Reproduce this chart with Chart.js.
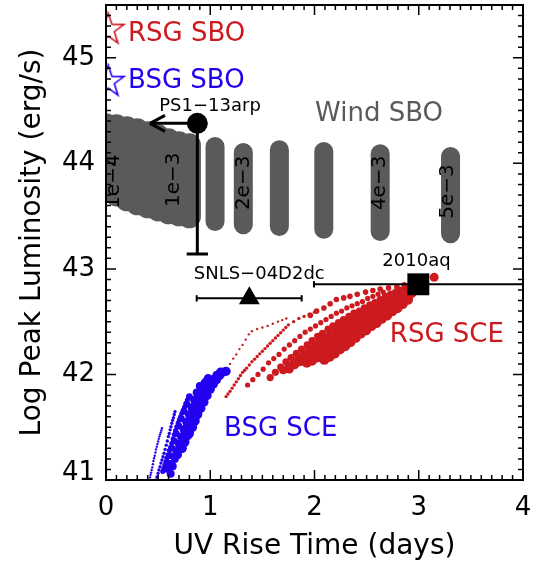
<!DOCTYPE html>
<html lang="en">
<head>
<meta charset="UTF-8">
<title>UV Rise Time vs Peak Luminosity</title>
<script src="https://cdn.jsdelivr.net/npm/chart.js"></script>
<style>
    body { margin: 0; background: #fff; }
</style>
</head>
<body>
<canvas id="chart" width="546" height="570"></canvas>
<script>
    const RED = '#cc1a1f';
    const BLUE = '#2200f0';
    const GRAY = '#5a5a5a';
    const FONT = 'DejaVu Sans';

    // shock breakout stars
    const rsgSbo = [[0.021, 45.267]];
    const bsgSbo = [[0.021, 44.774]];

    // wind SBO columns: x position, top and bottom of each column (log L)
    const windX      = [0.00, 0.10, 0.20, 0.30, 0.40, 0.50, 0.60, 0.70, 0.80, 1.046, 1.317, 1.663, 2.089, 2.630, 3.305];
    const windTop    = [44.365, 44.355, 44.336, 44.318, 44.289, 44.261, 44.223, 44.194, 44.175, 44.159, 44.102, 44.128, 44.112, 44.090, 44.064];
    const windBottom = [43.758, 43.701, 43.654, 43.616, 43.588, 43.559, 43.531, 43.512, 43.493, 43.448, 43.417, 43.401, 43.376, 43.354, 43.332];
    const windLabels = ['1e-4', '1e-3', '2e-3', '4e-3', '5e-3'];
    const windLabelX = [0.07, 0.65, 1.32, 2.63, 3.28];
    const windLabelY = [43.827, 43.844, 43.815, 43.815, 43.733];

    // observed events
    const ps1 = { x: 0.876, y: 44.379, yLow: 43.141, xLimit: 0.422 };
    const snls = { x: 1.375, y: 42.721, xLow: 0.870, xHigh: 1.877 };
    const sn2010aq = { x: 2.996, y: 42.854, xLow: 1.995, xHigh: 4.4 };

    // RSG shock cooling tracks (small dots to big dots)
    const redTrackA = [[1.13,42.01],[1.16,42.05],[1.19,42.10],[1.22,42.15],[1.25,42.19],[1.28,42.24],[1.31,42.28],[1.34,42.33],[1.37,42.38],[1.40,42.41],[1.45,42.43],[1.50,42.445],[1.55,42.46],[1.60,42.48],[1.65,42.50],[1.69,42.515],[1.73,42.53]];
    const redTrackB = [[1.152,41.79],[1.17,41.815],[1.19,41.84],[1.21,41.87],[1.23,41.90],[1.25,41.93],[1.27,41.96],[1.29,41.99],[1.31,42.02],[1.33,42.04],[1.35,42.06],[1.375,42.09],[1.40,42.12],[1.425,42.145],[1.45,42.17],[1.475,42.195],[1.50,42.22],[1.525,42.245],[1.55,42.27],[1.575,42.295],[1.60,42.32],[1.625,42.345],[1.65,42.37],[1.675,42.395],[1.70,42.42],[1.725,42.445],[1.75,42.47],[1.80,42.50],[1.85,42.53],[1.90,42.55],[1.95,42.57],[2.00,42.59]];
    const redTrackC = [[1.358,41.90],[1.408,41.95],[1.458,42.00],[1.508,42.05],[1.559,42.11],[1.609,42.15],[1.659,42.19],[1.709,42.24],[1.759,42.28],[1.81,42.32],[1.86,42.36],[1.91,42.40],[1.96,42.43],[2.01,42.46],[2.06,42.49],[2.11,42.52],[2.16,42.55],[2.21,42.58],[2.26,42.60],[2.31,42.63],[2.36,42.65],[2.41,42.67],[2.46,42.69],[2.51,42.72],[2.56,42.74],[2.61,42.76],[2.66,42.78]];
    const redTrackH = [[1.96,42.56],[2.02,42.60],[2.09,42.63],[2.15,42.67],[2.21,42.71],[2.28,42.725],[2.34,42.74],[2.41,42.76],[2.49,42.78],[2.56,42.795],[2.63,42.81],[2.71,42.82],[2.79,42.83],[2.86,42.85],[2.93,42.87]];
    const redTrackD = [[1.575,41.97],[1.625,42.02],[1.676,42.07],[1.726,42.12],[1.776,42.16],[1.826,42.20],[1.876,42.24],[1.93,42.28],[1.977,42.32],[2.03,42.36],[2.077,42.39],[2.13,42.43],[2.177,42.46],[2.23,42.49],[2.278,42.52],[2.33,42.55],[2.378,42.58],[2.43,42.60],[2.478,42.63],[2.53,42.66],[2.579,42.68],[2.63,42.71],[2.679,42.74],[2.73,42.76],[2.779,42.78],[2.83,42.80],[2.88,42.82],[2.92,42.84],[2.963,42.86]];
    const redTrackD2 = [[1.70,42.04],[1.75,42.08],[1.80,42.12],[1.85,42.16],[1.90,42.20],[1.95,42.24],[2.00,42.28],[2.05,42.31],[2.10,42.35],[2.15,42.38],[2.20,42.42],[2.25,42.45],[2.30,42.48],[2.35,42.51],[2.40,42.54],[2.45,42.57],[2.50,42.60],[2.55,42.63],[2.60,42.66],[2.65,42.69],[2.70,42.72],[2.75,42.74],[2.80,42.77],[2.85,42.79],[2.90,42.81],[2.95,42.83]];
    const redTrackE = [[1.759,42.05],[1.81,42.09],[1.86,42.12],[1.91,42.16],[1.96,42.19],[2.01,42.23],[2.06,42.26],[2.11,42.30],[2.161,42.33],[2.21,42.37],[2.261,42.40],[2.31,42.43],[2.361,42.47],[2.41,42.50],[2.462,42.53],[2.51,42.56],[2.562,42.59],[2.61,42.62],[2.662,42.65],[2.71,42.68],[2.763,42.71],[2.81,42.74],[2.863,42.76],[2.91,42.79],[2.963,42.815],[3.005,42.835],[3.047,42.856]];
    const redTrackF = [[1.926,42.11],[1.976,42.13],[2.027,42.16],[2.077,42.19],[2.127,42.23],[2.177,42.26],[2.227,42.30],[2.277,42.33],[2.328,42.37],[2.378,42.40],[2.428,42.43],[2.478,42.47],[2.528,42.50],[2.578,42.54],[2.629,42.57],[2.679,42.61],[2.729,42.64],[2.779,42.68],[2.829,42.71],[2.88,42.74],[2.93,42.77],[2.97,42.80],[3.013,42.83]];
    const redTrackG = [[2.094,42.14],[2.144,42.17],[2.194,42.20],[2.244,42.24],[2.294,42.27],[2.345,42.31],[2.395,42.35],[2.445,42.39],[2.495,42.42],[2.545,42.46],[2.595,42.49],[2.645,42.53],[2.696,42.56],[2.746,42.60],[2.796,42.63],[2.846,42.67],[2.896,42.71]];
    const redTopDot = [[3.148,42.92]];

    // BSG shock cooling: thin tracks on the left, dense band of big dots
    const blueTrack1 = [[0.416,41.00],[0.422,41.025],[0.427,41.05],[0.433,41.07],[0.438,41.095],[0.444,41.12],[0.45,41.15],[0.455,41.18],[0.461,41.206],[0.468,41.23],[0.474,41.26],[0.48,41.29],[0.487,41.316],[0.493,41.34],[0.50,41.365],[0.506,41.39],[0.512,41.411],[0.518,41.43],[0.525,41.45],[0.531,41.47],[0.537,41.49]];
    const blueTrack2 = [[0.480,41.00],[0.489,41.03],[0.499,41.063],[0.508,41.095],[0.518,41.126],[0.527,41.16],[0.537,41.19],[0.547,41.22],[0.557,41.253],[0.567,41.29],[0.578,41.33],[0.588,41.37],[0.598,41.411],[0.607,41.44],[0.615,41.475],[0.623,41.505],[0.631,41.537],[0.639,41.565],[0.647,41.59],[0.655,41.62],[0.662,41.648]];
    const blueTrack3 = [[0.544,41.08],[0.554,41.11],[0.564,41.14],[0.573,41.17],[0.583,41.206],[0.595,41.24],[0.607,41.28],[0.619,41.31],[0.631,41.348],[0.643,41.39],[0.655,41.43],[0.667,41.47],[0.679,41.505],[0.691,41.54],[0.703,41.57],[0.715,41.60],[0.727,41.632],[0.740,41.66],[0.753,41.69],[0.766,41.72],[0.780,41.758]];
    const blueBand1 = [[0.59,41.10],[0.605,41.16],[0.62,41.23],[0.635,41.30],[0.655,41.37],[0.675,41.44],[0.70,41.51],[0.725,41.58],[0.75,41.65],[0.775,41.72],[0.80,41.79]];
    const blueBand2 = [[0.62,41.06],[0.64,41.13],[0.66,41.20],[0.68,41.27],[0.70,41.34],[0.72,41.41],[0.745,41.48],[0.77,41.55],[0.795,41.62],[0.82,41.69],[0.845,41.76],[0.87,41.83],[0.90,41.89]];
    const blueBand3 = [[0.685,41.24],[0.71,41.31],[0.735,41.38],[0.76,41.45],[0.785,41.52],[0.81,41.59],[0.835,41.66],[0.86,41.73],[0.89,41.80],[0.92,41.86],[0.95,41.92],[0.98,41.96]];
    const blueBand4 = [[0.73,41.30],[0.755,41.36],[0.78,41.42],[0.805,41.48],[0.83,41.54],[0.855,41.60],[0.88,41.66],[0.905,41.72],[0.935,41.78],[0.965,41.84],[0.995,41.90],[1.03,41.95],[1.065,41.99],[1.10,42.02]];
    const blueBand5 = [[0.80,41.44],[0.83,41.50],[0.855,41.56],[0.88,41.62],[0.91,41.68],[0.94,41.74],[0.97,41.80],[1.00,41.86],[1.03,41.91],[1.06,41.95],[1.09,41.99],[1.12,42.02],[1.152,42.03]];

    const xTicks = [0, 1, 2, 3, 4];
    const yTicks = [41, 42, 43, 44, 45];

    const pts = arr => arr.map(p => ({ x: p[0], y: p[1] }));

    // open five-point star used for the SBO markers
    function starImage(color) {
        const c = document.createElement('canvas');
        c.width = 40; c.height = 40;
        const g = c.getContext('2d');
        g.strokeStyle = color;
        g.lineWidth = 1.6;
        g.beginPath();
        for (let k = 0; k < 10; k++) {
            const r = k % 2 ? 6.4 : 16.6;
            const a = -Math.PI / 2 + k * Math.PI / 5;
            const px = 20 + r * Math.cos(a), py = 20 + r * Math.sin(a);
            if (k) g.lineTo(px, py); else g.moveTo(px, py);
        }
        g.closePath();
        g.stroke();
        return c;
    }

    const datasets = [];
    function add(ds) {
        datasets.push(Object.assign({ clip: 0, pointRadius: 0, pointHoverRadius: 0, showLine: false, borderWidth: 0 }, ds));
    }
    function segment(a, b, color, width, cap) {
        add({ data: [a, b], showLine: true, borderColor: color, borderWidth: width, borderCapStyle: cap || 'butt', fill: false });
    }
    function dots(arr, color, r) {
        add({ data: pts(arr), pointRadius: r, backgroundColor: color, borderWidth: 0 });
    }

    // wind SBO columns (wide overlapping ones first, then separate capsules)
    windX.forEach((x, i) => {
        segment({ x: x, y: windTop[i] }, { x: x, y: windBottom[i] }, GRAY, i < 9 ? 23 : 19, 'round');
    });

    // RSG SCE
    dots(redTrackA, RED, 1.2);
    dots(redTrackB, RED, 1.7);
    dots(redTrackC, RED, 2.6);
    dots(redTrackH, RED, 2.8);
    dots(redTrackD, RED, 3.6);
    dots(redTrackD2, RED, 4.0);
    dots(redTrackE, RED, 4.4);
    dots(redTrackF, RED, 5.0);
    dots(redTrackG, RED, 5.2);
    dots(redTopDot, RED, 4.5);

    // BSG SCE
    dots(blueTrack1, BLUE, 1.2);
    dots(blueTrack2, BLUE, 1.7);
    dots(blueTrack3, BLUE, 2.5);
    dots(blueBand1, BLUE, 3.4);
    dots(blueBand2, BLUE, 4.0);
    dots(blueBand3, BLUE, 4.6);
    dots(blueBand4, BLUE, 4.8);
    dots(blueBand5, BLUE, 4.6);

    // SBO stars
    add({ data: pts(rsgSbo), pointStyle: starImage(RED), pointRadius: 16 });
    add({ data: pts(bsgSbo), pointStyle: starImage(BLUE), pointRadius: 16 });

    // PS1-13arp: lower error bar + upper limit arrow on rise time
    segment({ x: ps1.x, y: ps1.y }, { x: ps1.x, y: ps1.yLow }, '#000', 3);
    segment({ x: ps1.x - 0.102, y: ps1.yLow }, { x: ps1.x + 0.102, y: ps1.yLow }, '#000', 3);
    segment({ x: ps1.x, y: ps1.y }, { x: ps1.xLimit, y: ps1.y }, '#000', 3);
    segment({ x: ps1.xLimit, y: ps1.y }, { x: ps1.xLimit + 0.144, y: ps1.y + 0.076 }, '#000', 3);
    segment({ x: ps1.xLimit, y: ps1.y }, { x: ps1.xLimit + 0.144, y: ps1.y - 0.076 }, '#000', 3);
    add({ data: [{ x: ps1.x, y: ps1.y }], pointRadius: 10.5, backgroundColor: '#000' });

    // SNLS-04D2dc
    segment({ x: snls.xLow, y: snls.y }, { x: snls.xHigh, y: snls.y }, '#000', 2);
    segment({ x: snls.xLow, y: snls.y - 0.03 }, { x: snls.xLow, y: snls.y + 0.03 }, '#000', 2);
    segment({ x: snls.xHigh, y: snls.y - 0.03 }, { x: snls.xHigh, y: snls.y + 0.03 }, '#000', 2);
    add({ data: [{ x: snls.x, y: snls.y }], pointStyle: 'triangle', pointRadius: 12, backgroundColor: '#000' });

    // 2010aq
    segment({ x: sn2010aq.xLow, y: sn2010aq.y }, { x: sn2010aq.xHigh, y: sn2010aq.y }, '#000', 2);
    segment({ x: sn2010aq.xLow, y: sn2010aq.y - 0.03 }, { x: sn2010aq.xLow, y: sn2010aq.y + 0.03 }, '#000', 2);
    add({ data: [{ x: sn2010aq.x, y: sn2010aq.y }], pointStyle: 'rect', pointRadius: 15.5, backgroundColor: '#000' });

    // first pushed is drawn first (bottom)
    datasets.forEach((d, i) => { d.order = -i; });

    // text annotations in data coordinates
    const notes = [
        { text: 'RSG SBO', x: 0.211, y: 45.225, color: RED, size: 26, align: 'left' },
        { text: 'BSG SBO', x: 0.211, y: 44.782, color: BLUE, size: 26, align: 'left' },
        { text: 'Wind SBO', x: 2.619, y: 44.467, color: GRAY, size: 26, align: 'center' },
        { text: 'PS1\u221213arp', x: 0.998, y: 44.538, color: '#000', size: 18, align: 'center' },
        { text: 'SNLS\u221204D2dc', x: 1.470, y: 42.952, color: '#000', size: 18, align: 'center' },
        { text: '2010aq', x: 2.978, y: 43.070, color: '#000', size: 18, align: 'center' },
        { text: 'RSG SCE', x: 3.270, y: 42.374, color: RED, size: 26, align: 'center' },
        { text: 'BSG SCE', x: 1.676, y: 41.483, color: BLUE, size: 26, align: 'center' }
    ];

    const labelPlugin = {
        id: 'labels',
        afterDatasetsDraw(chart) {
            const { ctx, scales: { x, y } } = chart;
            ctx.save();
            ctx.textBaseline = 'middle';
            notes.forEach(n => {
                ctx.font = n.size + 'px "' + FONT + '"';
                ctx.fillStyle = n.color;
                ctx.textAlign = n.align;
                ctx.fillText(n.text, x.getPixelForValue(n.x), y.getPixelForValue(n.y));
            });
            ctx.font = '20px "' + FONT + '"';
            ctx.fillStyle = '#000';
            ctx.textAlign = 'center';
            windLabels.forEach((t, i) => {
                ctx.save();
                ctx.translate(x.getPixelForValue(windLabelX[i]), y.getPixelForValue(windLabelY[i]));
                ctx.rotate(-Math.PI / 2);
                ctx.fillText(t.replace('-', '\u2212'), 0, 0);
                ctx.restore();
            });
            ctx.restore();
        }
    };

    // box with inward major/minor ticks on all four sides, tick labels and axis titles
    const framePlugin = {
        id: 'frame',
        afterDraw(chart) {
            const { ctx, chartArea: a, scales: { x, y } } = chart;
            ctx.save();
            ctx.strokeStyle = '#000';
            ctx.lineWidth = 1.5;
            ctx.beginPath();
            for (let i = 0; i <= 40; i++) {
                const px = x.getPixelForValue(i / 10);
                const len = i % 10 === 0 ? 10 : 5;
                ctx.moveTo(px, a.bottom); ctx.lineTo(px, a.bottom - len);
                ctx.moveTo(px, a.top); ctx.lineTo(px, a.top + len);
            }
            for (let i = 0; i <= 45; i++) {
                const py = y.getPixelForValue(41 + i / 10);
                const len = i % 10 === 0 ? 10 : 5;
                ctx.moveTo(a.left, py); ctx.lineTo(a.left + len, py);
                ctx.moveTo(a.right, py); ctx.lineTo(a.right - len, py);
            }
            ctx.stroke();
            ctx.lineWidth = 2;
            ctx.strokeRect(a.left, a.top, a.right - a.left, a.bottom - a.top);

            ctx.fillStyle = '#000';
            ctx.font = '26px "' + FONT + '"';
            ctx.textBaseline = 'middle';
            ctx.textAlign = 'center';
            xTicks.forEach(v => ctx.fillText(String(v), x.getPixelForValue(v), a.bottom + 28));
            ctx.textAlign = 'right';
            yTicks.forEach(v => ctx.fillText(String(v), a.left - 11, Math.min(y.getPixelForValue(v), a.bottom - 7)));

            ctx.font = '28px "' + FONT + '"';
            ctx.textAlign = 'center';
            ctx.fillText('UV Rise Time (days)', (a.left + a.right) / 2, 547);
            ctx.translate(33, (a.top + a.bottom) / 2);
            ctx.rotate(-Math.PI / 2);
            ctx.fillText('Log Peak Luminosity (erg/s)', 0, 0);
            ctx.restore();
        }
    };

    const ctx = document.getElementById('chart').getContext('2d');
    new Chart(ctx, {
        type: 'scatter',
        data: { datasets: datasets },
        options: {
            responsive: false,
            animation: false,
            devicePixelRatio: 1,
            events: [],
            layout: { autoPadding: false, padding: { left: 0, right: 23, top: 5, bottom: 0 } },
            plugins: { legend: { display: false }, tooltip: { enabled: false } },
            scales: {
                x: {
                    type: 'linear', min: 0, max: 4,
                    grid: { display: false }, border: { display: false },
                    ticks: { display: false },
                    afterFit: s => { s.height = 90; }
                },
                y: {
                    type: 'linear', min: 41, max: 45.5,
                    grid: { display: false }, border: { display: false },
                    ticks: { display: false },
                    afterFit: s => { s.width = 106; }
                }
            }
        },
        plugins: [labelPlugin, framePlugin]
    });
</script>
</body>
</html>
